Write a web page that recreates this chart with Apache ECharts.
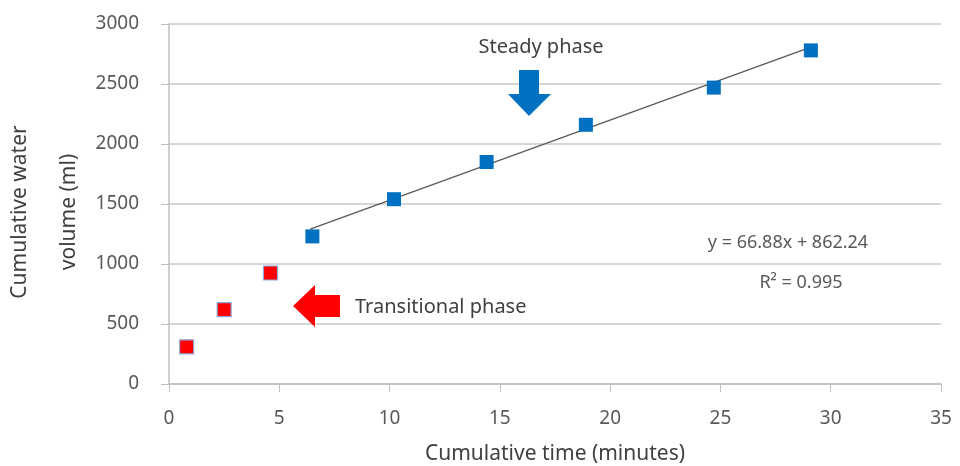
<!DOCTYPE html>
<html>
<head>
<meta charset="utf-8">
<script src="https://cdn.jsdelivr.net/npm/echarts@6/dist/echarts.min.js"></script>
<style>html,body{margin:0;padding:0;background:#fff;}#c{width:960px;height:466px;}</style>
</head>
<body>
<div id="c"></div>
<script>
// Data
var transitionalTime = [0.8, 2.5, 4.6];
var transitionalVolume = [310, 620, 925];
var steadyTime = [6.5, 10.2, 14.4, 18.9, 24.7, 29.1];
var steadyVolume = [1230, 1540, 1850, 2160, 2470, 2780];
var trendTime = [6.4, 29.1];
var trendVolume = [1290, 2808];
var xTicks = [0, 5, 10, 15, 20, 25, 30, 35];
var yTicks = [0, 500, 1000, 1500, 2000, 2500, 3000];

function pairs(xs, ys) { return xs.map(function (x, i) { return [x, ys[i]]; }); }

var FONT = 'Noto Sans';
var TXT = '#595959';
var chart = echarts.init(document.getElementById('c'));
chart.setOption({
  animation: false,
  textStyle: { fontFamily: FONT },
  grid: { left: 169, right: 19, top: 24, bottom: 82, containLabel: false, outerBoundsMode: 'none' },
  xAxis: {
    type: 'value', min: xTicks[0], max: xTicks[xTicks.length - 1], interval: 5,
    name: 'Cumulative time (minutes)', nameLocation: 'middle', nameGap: 60, nameMoveOverlap: false,
    nameTextStyle: { fontSize: 21, color: '#404040', fontFamily: FONT },
    axisLine: { show: true, lineStyle: { color: '#bfbfbf', width: 1.5 } },
    axisTick: { show: true, length: 8, lineStyle: { color: '#bfbfbf' } },
    axisLabel: { fontSize: 19, color: TXT, margin: 25, fontFamily: FONT, formatter: function (v) { return String(v); } },
    splitLine: { show: false }
  },
  yAxis: {
    type: 'value', min: yTicks[0], max: yTicks[yTicks.length - 1], interval: 500,
    name: 'Cumulative water\nvolume (ml)', nameLocation: 'middle', nameGap: 75, nameMoveOverlap: false,
    nameTextStyle: { fontSize: 21, color: '#404040', lineHeight: 49, fontFamily: FONT, padding: [0, 16, 0, 0] },
    axisLine: { show: true, lineStyle: { color: '#bfbfbf', width: 1.5 } },
    axisTick: { show: true, length: 8, lineStyle: { color: '#bfbfbf' } },
    axisLabel: { fontSize: 19, color: TXT, margin: 30, fontFamily: FONT, formatter: function (v) { return String(v); } },
    splitLine: { show: true, lineStyle: { color: '#c8c8c8', width: 1.5 } }
  },
  graphic: [
    { type: 'polygon', shape: { points: [[519,70],[539,70],[539,94],[551,94],[529,116],[508,94],[519,94]] }, style: { fill: '#0070C0' }, z: 10 },
    { type: 'polygon', shape: { points: [[293,306],[315,285],[315,295],[340,295],[340,317],[315,317],[315,327]] }, style: { fill: '#FF0000' }, z: 10 },
    { type: 'text', x: 541, y: 47, style: { text: 'Steady phase', font: '20px "Noto Sans"', fill: '#404040', align: 'center', verticalAlign: 'middle' }, z: 10 },
    { type: 'text', x: 355, y: 307, style: { text: 'Transitional phase', font: '20px "Noto Sans"', fill: '#404040', align: 'left', verticalAlign: 'middle' }, z: 10 },
    { type: 'text', x: 788, y: 243, style: { text: 'y = 66.88x + 862.24', font: '18px "Noto Sans"', fill: TXT, align: 'center', verticalAlign: 'middle' }, z: 10 },
    { type: 'text', x: 801, y: 283, style: { text: 'R² = 0.995', font: '18px "Noto Sans"', fill: TXT, align: 'center', verticalAlign: 'middle' }, z: 10 }
  ],
  series: [
    {
      type: 'line', data: pairs(trendTime, trendVolume), showSymbol: false, symbol: 'none',
      lineStyle: { color: '#595959', width: 1.3 }, z: 1, silent: true
    },
    {
      type: 'scatter', data: pairs(transitionalTime, transitionalVolume), symbol: 'rect', symbolSize: 14,
      itemStyle: { color: '#FF0000', borderColor: '#8EA9DB', borderWidth: 1.2, opacity: 1 }, z: 3
    },
    {
      type: 'scatter', data: pairs(steadyTime, steadyVolume), symbol: 'rect', symbolSize: 14,
      itemStyle: { color: '#0070C0', opacity: 1 }, z: 3
    }
  ]
});
</script>
</body>
</html>
